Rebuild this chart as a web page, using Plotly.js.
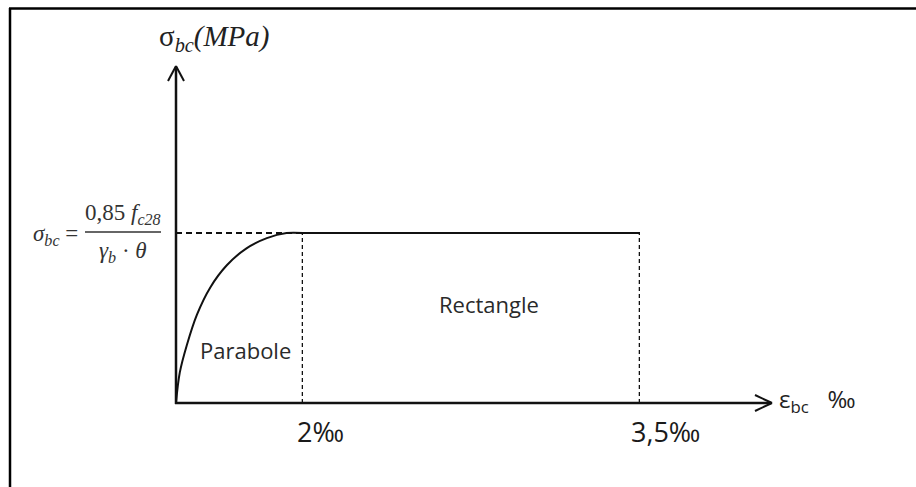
<!DOCTYPE html>
<html>
<head>
<meta charset="utf-8">
<script src="https://cdn.plot.ly/plotly-3.0.1.min.js"></script>
<style>html,body{margin:0;padding:0;background:#fff;}#chart{width:916px;height:487px;}</style>
</head>
<body>
<div id="chart"></div>
<script>
// Strain (‰) and normalized stress
const epsParabola = [0, 0.06, 0.17, 0.33, 0.54, 0.80, 1.11, 1.43, 1.74, 2];
const sigmaParabola = [0, 0.18, 0.34, 0.52, 0.68, 0.81, 0.91, 0.97, 1.0, 1];
const epsRectangle = [2, 3.5];
const sigmaRectangle = [1, 1];
const strainTicks = [2, 3.5];
const strainTickLabels = ['2‰', '3,5‰'];
const regionLabels = ['Parabole', 'Rectangle'];

const W = 916, H = 487;
const px = v => v / W;
const py = v => 1 - v / H;
const ink = '#111';

const traces = [
  {x: epsParabola, y: sigmaParabola, xaxis: 'x', yaxis: 'y', mode: 'lines',
   line: {color: ink, width: 2, shape: 'spline', smoothing: 1}, hoverinfo: 'skip'},
  {x: epsRectangle, y: sigmaRectangle, xaxis: 'x2', yaxis: 'y', mode: 'lines',
   line: {color: ink, width: 2}, hoverinfo: 'skip'},
  // dashed guide: plateau level back to the axis
  {x: [0, strainTicks[0]], y: [sigmaRectangle[0], sigmaRectangle[0]], xaxis: 'x', yaxis: 'y', mode: 'lines',
   line: {color: ink, width: 2, dash: '6px,4px'}, hoverinfo: 'skip'},
  // dashed verticals at 2‰ and 3,5‰
  {x: [strainTicks[0], strainTicks[0]], y: [0, sigmaRectangle[0]], xaxis: 'x', yaxis: 'y', mode: 'lines',
   line: {color: ink, width: 2.6, dash: '4px,3px'}, hoverinfo: 'skip'},
  {x: [strainTicks[1], strainTicks[1]], y: [0, sigmaRectangle[1]], xaxis: 'x2', yaxis: 'y', mode: 'lines',
   line: {color: ink, width: 2.6, dash: '4px,3px'}, hoverinfo: 'skip'}
];

const shapes = [
  // frame (left and top edges)
  {type: 'line', xref: 'paper', yref: 'paper', x0: px(10), y0: 0, x1: px(10), y1: py(8), line: {color: '#000', width: 2.5}},
  {type: 'line', xref: 'paper', yref: 'paper', x0: px(9), y0: py(8.5), x1: 1, y1: py(8.5), line: {color: '#000', width: 2.5}},
  // y axis with arrow
  {type: 'line', xref: 'paper', yref: 'paper', x0: px(176), y0: py(404), x1: px(176), y1: py(67), line: {color: ink, width: 2.5}},
  {type: 'line', xref: 'paper', yref: 'paper', x0: px(168), y0: py(81), x1: px(176), y1: py(66), line: {color: ink, width: 2}},
  {type: 'line', xref: 'paper', yref: 'paper', x0: px(184), y0: py(81), x1: px(176), y1: py(66), line: {color: ink, width: 2}},
  // x axis with arrow
  {type: 'line', xref: 'paper', yref: 'paper', x0: px(175), y0: py(403), x1: px(771), y1: py(403), line: {color: ink, width: 2.5}},
  {type: 'line', xref: 'paper', yref: 'paper', x0: px(755), y0: py(395), x1: px(772), y1: py(403), line: {color: ink, width: 2}},
  {type: 'line', xref: 'paper', yref: 'paper', x0: px(755), y0: py(411), x1: px(772), y1: py(403), line: {color: ink, width: 2}},
  // fraction bar of the formula
  {type: 'line', xref: 'paper', yref: 'paper', x0: px(85), y0: py(232), x1: px(161), y1: py(232), line: {color: '#333', width: 1.5}}
];

const serif = 'Liberation Serif, Times New Roman, serif';
const sans = 'Open Sans, sans-serif';

const annotations = [
  {xref: 'paper', yref: 'paper', x: px(157), y: py(38), xanchor: 'left', yanchor: 'middle', showarrow: false,
   text: 'σ<sub><i>bc</i></sub><i>(MPa)</i>', font: {family: serif, size: 29, color: '#222'}},
  {xref: 'paper', yref: 'paper', x: px(31), y: py(235), xanchor: 'left', yanchor: 'middle', showarrow: false,
   text: '<i>σ</i><sub><i>bc</i></sub> =', font: {family: serif, size: 23, color: '#333'}},
  {xref: 'paper', yref: 'paper', x: px(123), y: py(214), xanchor: 'center', yanchor: 'middle', showarrow: false,
   text: '0,85 <i>f</i><sub><i>c28</i></sub>', font: {family: serif, size: 23, color: '#333'}},
  {xref: 'paper', yref: 'paper', x: px(123), y: py(252), xanchor: 'center', yanchor: 'middle', showarrow: false,
   text: '<i>γ</i><sub><i>b</i></sub> · <i>θ</i>', font: {family: serif, size: 23, color: '#333'}},
  {xref: 'x', yref: 'y', x: 1.0, y: 0.31, xanchor: 'center', yanchor: 'middle', showarrow: false,
   text: regionLabels[0], font: {family: sans, size: 22, color: '#2a2a2a'}, xshift: 6},
  {xref: 'x2', yref: 'y', x: 2.83, y: 0.58, xanchor: 'center', yanchor: 'middle', showarrow: false,
   text: regionLabels[1], font: {family: sans, size: 22, color: '#2a2a2a'}, xshift: 0},
  {xref: 'x', yref: 'y', x: strainTicks[0], y: 0, xanchor: 'left', yanchor: 'top', showarrow: false,
   text: strainTickLabels[0], font: {family: sans, size: 27, color: '#1a1a1a'}, xshift: -8, yshift: -8},
  {xref: 'x2', yref: 'y', x: strainTicks[1], y: 0, xanchor: 'left', yanchor: 'top', showarrow: false,
   text: strainTickLabels[1], font: {family: sans, size: 27, color: '#1a1a1a'}, xshift: -11, yshift: -8},
  {xref: 'paper', yref: 'paper', x: px(777), y: py(400), xanchor: 'left', yanchor: 'middle', showarrow: false,
   text: 'ε<sub>bc</sub>&nbsp;&nbsp;&nbsp;‰', font: {family: sans, size: 24, color: '#222'}}
];

const layout = {
  width: W, height: H,
  margin: {l: 0, r: 0, t: 0, b: 0, pad: 0},
  paper_bgcolor: '#fff', plot_bgcolor: '#fff',
  showlegend: false,
  xaxis: {domain: [176 / W, 303 / W], range: [0, 2], visible: false, anchor: 'y', fixedrange: true},
  xaxis2: {domain: [303 / W, 640 / W], range: [2, 3.5], visible: false, anchor: 'y', fixedrange: true},
  yaxis: {domain: [0, 1], range: [-84 / 170, 1 + 233 / 170], visible: false, fixedrange: true},
  shapes: shapes,
  annotations: annotations
};

Plotly.newPlot('chart', traces, layout, {staticPlot: true, displayModeBar: false});
</script>
</body>
</html>
